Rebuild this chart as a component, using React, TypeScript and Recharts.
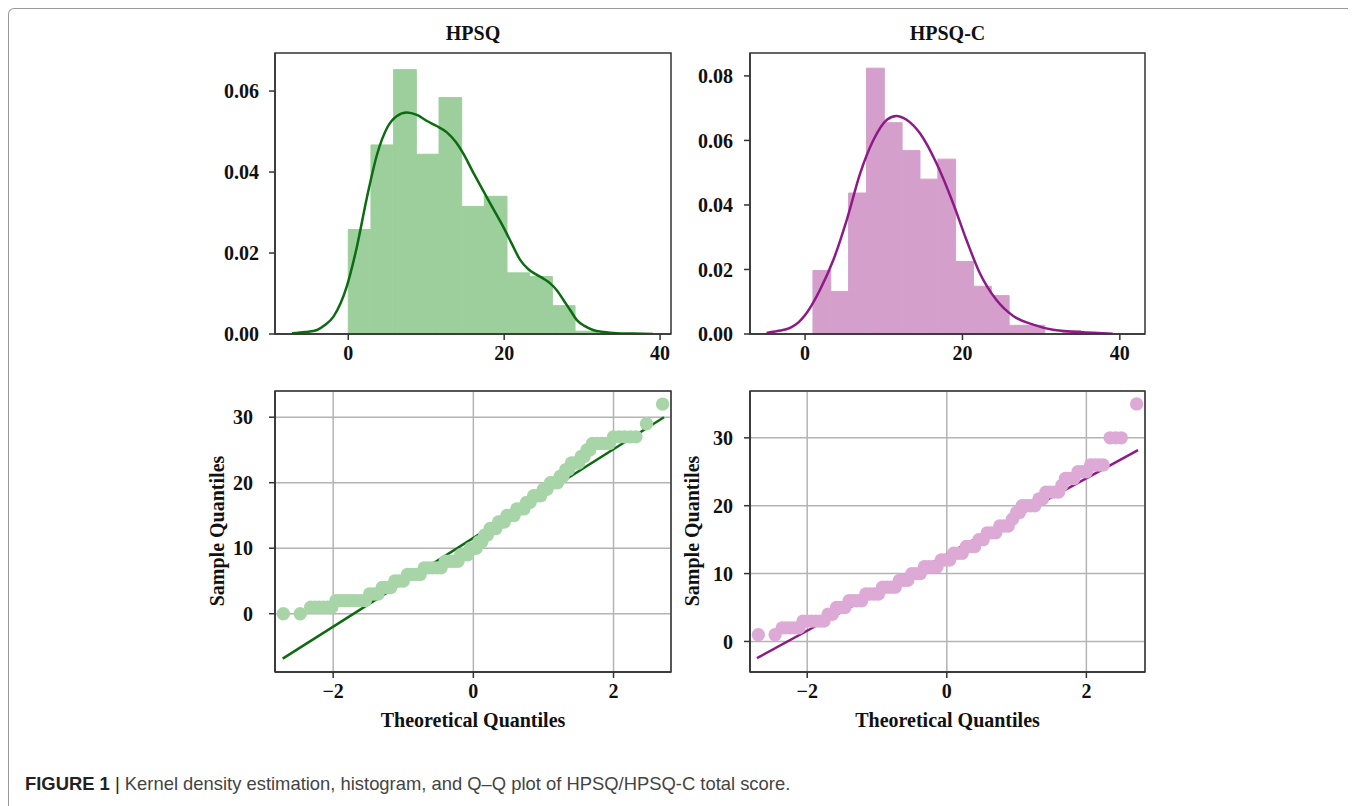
import React from "react";
import {
  ComposedChart, ScatterChart, Scatter, Line, XAxis, YAxis,
  CartesianGrid, ReferenceArea, ReferenceLine,
} from "recharts";

// histogram bins (edges + density heights)
const hpsqBinEdges = [0, 2.91, 5.82, 8.73, 11.64, 14.55, 17.45, 20.36, 23.27, 26.18, 29.09, 32];
const hpsqBinHeights = [0.0258, 0.0467, 0.0653, 0.0444, 0.0584, 0.0315, 0.034, 0.0151, 0.0142, 0.007, 0.0007];
const hpsqcBinEdges = [1, 3.27, 5.53, 7.8, 10.07, 12.33, 14.6, 16.87, 19.13, 21.4, 23.67, 25.93, 28.2, 30.47, 32.73, 35];
const hpsqcBinHeights = [0.0197, 0.0132, 0.0437, 0.0824, 0.0655, 0.0569, 0.048, 0.0542, 0.0225, 0.0148, 0.0119, 0.0027, 0.0027, 0, 0.0011];

// kernel density curves
const hpsqKdeX = [-7.2, -5.5, -4.0, -3.0, -1.9, -0.2, 1.1, 2.4, 3.7, 5.0, 6.2, 7.5, 8.8, 10.1, 11.4, 12.65, 13.8, 14.8, 16.0, 17.3, 18.6, 19.9, 21.0, 22.05, 23.1, 24.2, 25.1, 25.9, 26.8, 27.6, 28.5, 29.3, 30.3, 31.4, 32.8, 34.4, 36.5, 39.1];
const hpsqKdeY = [0.0002, 0.0005, 0.001, 0.0022, 0.0043, 0.0117, 0.0215, 0.0338, 0.0444, 0.051, 0.0538, 0.0547, 0.0541, 0.0526, 0.0513, 0.0498, 0.0474, 0.0444, 0.04, 0.0354, 0.0309, 0.0264, 0.0222, 0.0183, 0.016, 0.0146, 0.0136, 0.0125, 0.0107, 0.0084, 0.0058, 0.0035, 0.002, 0.001, 0.0005, 0.0002, 0.0001, 0];
const hpsqcKdeX = [-4.9, -3.5, -1.9, -0.8, 0.2, 1.9, 3.6, 5.3, 7.0, 8.7, 10.4, 11.6, 12.9, 14.6, 16.7, 18.8, 20.5, 22.2, 24.3, 26.5, 29.0, 31.5, 34.9, 39.1];
const hpsqcKdeY = [0.0003, 0.0009, 0.0019, 0.0037, 0.0065, 0.0137, 0.023, 0.0354, 0.0498, 0.0602, 0.0664, 0.0676, 0.0664, 0.0622, 0.0529, 0.0406, 0.0292, 0.0189, 0.0106, 0.0055, 0.0029, 0.0013, 0.0006, 0.0001];

// Q-Q points: theoretical quantile, sample quantile
const hpsqQQ = [
  [-2.71, 0], [-2.47, 0],
  [-2.32, 1], [-2.26, 1], [-2.2, 1], [-2.14, 1], [-2.08, 1], [-2.02, 1],
  [-1.96, 2], [-1.9, 2], [-1.84, 2], [-1.78, 2], [-1.72, 2], [-1.66, 2], [-1.6, 2], [-1.54, 2],
  [-1.48, 3], [-1.42, 3], [-1.36, 3],
  [-1.3, 4], [-1.24, 4], [-1.18, 4],
  [-1.12, 5], [-1.06, 5], [-1.0, 5],
  [-0.94, 6], [-0.88, 6], [-0.82, 6], [-0.76, 6],
  [-0.7, 7], [-0.64, 7], [-0.58, 7], [-0.52, 7], [-0.46, 7],
  [-0.4, 8], [-0.34, 8], [-0.28, 8], [-0.22, 8],
  [-0.18, 9], [-0.13, 9], [-0.08, 9],
  [-0.04, 10], [0, 10], [0.04, 10],
  [0.08, 11], [0.12, 11],
  [0.16, 12], [0.2, 12],
  [0.24, 13], [0.28, 13], [0.32, 13],
  [0.36, 14], [0.4, 14], [0.44, 14],
  [0.48, 15], [0.53, 15], [0.58, 15],
  [0.62, 16], [0.67, 16], [0.72, 16],
  [0.76, 17], [0.81, 17],
  [0.86, 18], [0.91, 18], [0.96, 18],
  [1.0, 19], [1.05, 19],
  [1.1, 20], [1.15, 20], [1.2, 20],
  [1.24, 21], [1.28, 21],
  [1.32, 22], [1.36, 22],
  [1.4, 23], [1.45, 23], [1.5, 23],
  [1.54, 24], [1.58, 24],
  [1.62, 25], [1.66, 25],
  [1.7, 26], [1.76, 26], [1.82, 26], [1.88, 26], [1.94, 26],
  [2.0, 27], [2.08, 27], [2.16, 27], [2.24, 27], [2.32, 27],
  [2.47, 29], [2.7, 32],
];
const hpsqcQQ = [
  [-2.7, 1], [-2.46, 1],
  [-2.36, 2], [-2.3, 2], [-2.24, 2], [-2.18, 2], [-2.12, 2],
  [-2.06, 3], [-2.0, 3], [-1.94, 3], [-1.88, 3], [-1.82, 3], [-1.76, 3],
  [-1.7, 4], [-1.64, 4],
  [-1.58, 5], [-1.52, 5], [-1.46, 5],
  [-1.4, 6], [-1.34, 6], [-1.28, 6], [-1.22, 6],
  [-1.16, 7], [-1.1, 7], [-1.04, 7], [-0.98, 7],
  [-0.92, 8], [-0.86, 8], [-0.8, 8], [-0.74, 8],
  [-0.68, 9], [-0.62, 9], [-0.56, 9],
  [-0.5, 10], [-0.44, 10], [-0.38, 10],
  [-0.32, 11], [-0.26, 11], [-0.2, 11], [-0.14, 11],
  [-0.08, 12], [-0.02, 12], [0.04, 12],
  [0.1, 13], [0.16, 13], [0.22, 13],
  [0.28, 14], [0.34, 14], [0.4, 14],
  [0.46, 15], [0.52, 15],
  [0.58, 16], [0.64, 16], [0.7, 16],
  [0.76, 17], [0.82, 17], [0.88, 17],
  [0.94, 18],
  [1.0, 19], [1.04, 19],
  [1.08, 20], [1.14, 20], [1.2, 20], [1.26, 20],
  [1.32, 21], [1.37, 21],
  [1.42, 22], [1.48, 22], [1.54, 22], [1.6, 22],
  [1.65, 23],
  [1.7, 24], [1.76, 24], [1.82, 24],
  [1.88, 25], [1.94, 25], [2.0, 25],
  [2.06, 26], [2.12, 26], [2.18, 26], [2.24, 26],
  [2.34, 30], [2.42, 30], [2.5, 30],
  [2.72, 35],
];
// fitted reference lines (endpoints)
const hpsqFit = [[-2.72, -6.85], [2.72, 30.0]];
const hpsqcFit = [[-2.72, -2.46], [2.74, 28.2]];

const histTicksX = [0, 20, 40];
const hpsqTicksY = [0, 0.02, 0.04, 0.06];
const hpsqcTicksY = [0, 0.02, 0.04, 0.06, 0.08];
const qqTicksX = [-2, 0, 2];
const qqTicksY = [0, 10, 20, 30];

const serif = "'Liberation Serif', 'Times New Roman', serif";
const tickStyle = { fill: "#111", fontSize: 20, fontWeight: 700, fontFamily: serif };
const axisStroke = { stroke: "#333", strokeWidth: 1.5 };
const fmtX = (v: number) => (v < 0 ? "\u2212" + Math.abs(v) : String(v));

function Hist({ left, top, width, edges, heights, kx, ky, xDom, yDom, yTicks, fill, line, tickMargin }: any) {
  const data = kx.map((x: number, i: number) => ({ x, y: ky[i] }));
  return (
    <div style={{ position: "absolute", left, top }}>
      <ComposedChart width={width} height={331} data={data} margin={{ top: 10, right: 10, bottom: 0, left: 0 }}>
        <XAxis dataKey="x" type="number" domain={xDom} allowDataOverflow ticks={histTicksX}
          tick={tickStyle} axisLine={axisStroke} tickLine={axisStroke} tickSize={6} tickMargin={6} height={40} />
        <YAxis type="number" domain={yDom} allowDataOverflow ticks={yTicks} width={100}
          tickFormatter={(v) => v.toFixed(2)} tick={tickStyle} axisLine={axisStroke} tickLine={axisStroke}
          tickSize={6} tickMargin={tickMargin} />
        {heights.map((h: number, i: number) => h > 0 && (
          <ReferenceArea key={i} x1={edges[i]} x2={edges[i + 1]} y1={0} y2={h}
            fill={fill} fillOpacity={1} stroke={fill} strokeWidth={1} />
        ))}
        <Line dataKey="y" type="monotone" stroke={line} strokeWidth={2.5} dot={false} isAnimationActive={false} />
        <ReferenceArea x1={xDom[0]} x2={xDom[1]} y1={yDom[0]} y2={yDom[1]} fill="none" stroke="#333" strokeWidth={1.5} />
      </ComposedChart>
    </div>
  );
}

function QQ({ left, top, width, pts, fit, xDom, yDom, fill, line, tickMargin }: any) {
  const data = pts.map((p: number[]) => ({ x: p[0], y: p[1] }));
  return (
    <div style={{ position: "absolute", left, top }}>
      <ScatterChart width={width} height={331} margin={{ top: 10, right: 10, bottom: 0, left: 0 }}>
        <CartesianGrid stroke="#b4b4b4" strokeWidth={1.5} />
        <XAxis dataKey="x" type="number" domain={xDom} allowDataOverflow ticks={qqTicksX} tickFormatter={fmtX}
          tick={tickStyle} axisLine={axisStroke} tickLine={axisStroke} tickSize={6} tickMargin={6} height={40} />
        <YAxis dataKey="y" type="number" domain={yDom} allowDataOverflow ticks={qqTicksY} width={100}
          tick={tickStyle} axisLine={axisStroke} tickLine={axisStroke} tickSize={6} tickMargin={tickMargin} />
        <Scatter data={data} isAnimationActive={false}
          shape={(p: any) => <circle cx={p.cx} cy={p.cy} r={6.7} fill={fill} />} />
        <ReferenceLine segment={[{ x: fit[0][0], y: fit[0][1] }, { x: fit[1][0], y: fit[1][1] }]}
          stroke={line} strokeWidth={2.5} />
        <ReferenceArea x1={xDom[0]} x2={xDom[1]} y1={yDom[0]} y2={yDom[1]} fill="none" stroke="#333" strokeWidth={1.5} />
      </ScatterChart>
    </div>
  );
}

export default function App() {
  const label = { fontFamily: serif, fontWeight: 700, fontSize: 20, fill: "#111" } as any;
  return (
    <div style={{ position: "absolute", left: 0, top: 0, width: 1355, height: 806, background: "#fff", overflow: "hidden" }}>
      <div style={{ position: "absolute", left: 8, top: 8, width: 1339, height: 810,
        borderLeft: "1px solid #9a9a9a", borderTop: "1px solid #9a9a9a", borderTopLeftRadius: 6 }} />
      <Hist left={175} top={43} width={506} edges={hpsqBinEdges} heights={hpsqBinHeights}
        kx={hpsqKdeX} ky={hpsqKdeY} xDom={[-9.4, 41.4]} yDom={[0, 0.0694]} yTicks={hpsqTicksY}
        fill="#9dcf9d" line="#0d6b12" tickMargin={10} />
      <Hist left={650} top={43} width={505} edges={hpsqcBinEdges} heights={hpsqcBinHeights}
        kx={hpsqcKdeX} ky={hpsqcKdeY} xDom={[-7.0, 43.2]} yDom={[0, 0.0871]} yTicks={hpsqcTicksY}
        fill="#d4a0cb" line="#8e1a87" tickMargin={11} />
      <QQ left={175} top={381} width={506} pts={hpsqQQ} fit={hpsqFit} xDom={[-2.83, 2.82]} yDom={[-8.9, 34.0]}
        fill="#a8d5a8" line="#0d6b12" tickMargin={16} />
      <QQ left={650} top={381} width={505} pts={hpsqcQQ} fit={hpsqcFit} xDom={[-2.82, 2.84]} yDom={[-4.5, 36.9]}
        fill="#ddaad6" line="#8e1a87" tickMargin={11} />
      <svg width={1355} height={806} style={{ position: "absolute", left: 0, top: 0, pointerEvents: "none" }}>
        <text x={473} y={40} textAnchor="middle" {...label}>HPSQ</text>
        <text x={947.5} y={40} textAnchor="middle" {...label}>HPSQ-C</text>
        <text x={473} y={727} textAnchor="middle" {...label}>Theoretical Quantiles</text>
        <text x={947.5} y={727} textAnchor="middle" {...label}>Theoretical Quantiles</text>
        <text transform="translate(224, 531) rotate(-90)" textAnchor="middle" {...label}>Sample Quantiles</text>
        <text transform="translate(699, 531) rotate(-90)" textAnchor="middle" {...label}>Sample Quantiles</text>
        <text x={25} y={790} fontFamily="'Liberation Sans', Arial, sans-serif" fontSize={18.4} fill="#444">
          <tspan fontWeight={700} fill="#222">FIGURE 1</tspan>
          <tspan fill="#222"> | </tspan>
          <tspan>Kernel density estimation, histogram, and Q–Q plot of HPSQ/HPSQ-C total score.</tspan>
        </text>
      </svg>
    </div>
  );
}
